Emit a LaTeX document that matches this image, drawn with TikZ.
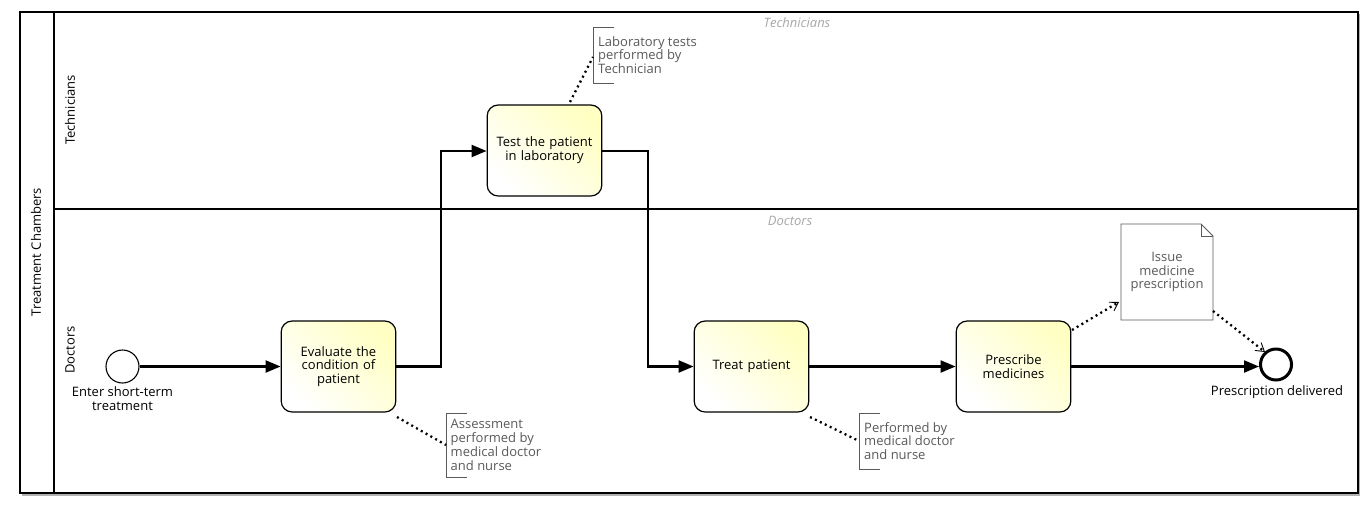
\documentclass[tikz,border=0pt]{standalone}
\usepackage{fontspec}
\setmainfont{Open Sans}
\usetikzlibrary{arrows.meta,shapes.geometric}
\definecolor{taskfill}{HTML}{FFFFC4}
\definecolor{notegray}{HTML}{5A5A5A}
\definecolor{lanegray}{HTML}{A8A8A8}
\begin{document}
\begin{tikzpicture}[x=1pt,y=-1pt,
  font=\fontsize{13}{13.8}\selectfont,
  task/.style={draw,line width=1.2pt,rounded corners=11pt,minimum width=113pt,minimum height=91pt,
    align=center,text width=108pt,left color=white,right color=taskfill,shading angle=135},
  startev/.style={draw,circle,line width=1.1pt,minimum size=33pt,inner sep=0pt},
  endev/.style={draw,circle,line width=3pt,minimum size=31pt,inner sep=0pt},
  flow/.style={line width=2.2pt,-{Triangle[length=15pt,width=12pt]}},
  assoc/.style={line width=2.3pt,dash pattern=on 2pt off 3.5pt},
  dassoc/.style={line width=2.3pt,dash pattern=on 2pt off 3.5pt,
    -{Straight Barb[length=8pt,width=10pt,line width=0.9pt]}},
  notetext/.style={align=left,anchor=west,text=notegray,inner sep=0pt},
  lanetitle/.style={text=lanegray,font=\fontsize{13}{14}\selectfont\itshape},
  evlabel/.style={align=center,inner sep=0pt}]
\useasboundingbox (0,0) rectangle (1367,507);

% pool frame with shadow
\fill[gray!60] (22,14) rectangle (1360,496);
\draw[line width=1.3pt,fill=white] (20,12) rectangle (1358,493);
\draw[line width=1.3pt] (54,12) -- (54,493);
\draw[line width=1.3pt] (54,209) -- (1358,209);

% pool and lane names
\node[rotate=90] (pool) at (36,252) {Treatment Chambers};
\node[rotate=90] (laneT) at (70,110) {Technicians};
\node[rotate=90] (laneD) at (70,350) {Doctors};
\node[lanetitle] (titleT) at (797,23) {Technicians};
\node[lanetitle] (titleD) at (790,221) {Doctors};

% events
\node[startev] (start) at (122.5,366.5) {};
\node[evlabel] (startlbl) at (122.5,399) {Enter short-term\\treatment};
\node[endev] (end) at (1276,364.5) {};
\node[evlabel] (endlbl) at (1277,392) {Prescription delivered};

% tasks
\node[task] (eval) at (338.5,366.5) {Evaluate the\\condition of\\patient};
\node[task] (test) at (544.5,150.5) {Test the patient\\in laboratory};
\node[task] (treat) at (751.5,366.5) {Treat patient};
\node[task] (presc) at (1013.5,366.5) {Prescribe\\medicines};

% data object
\draw[line width=0.9pt,draw=notegray,fill=white] (1121,224) -- (1201,224) -- (1213,236) -- (1213,320) -- (1121,320) -- cycle;
\draw[line width=0.9pt,draw=notegray] (1201,224) -- (1201,236) -- (1213,236);
\node[align=center,text=notegray] (doc) at (1167,272) {Issue\\medicine\\prescription};

% annotations
\draw[line width=0.9pt,draw=notegray] (467,413) -- (446,413) -- (446,477) -- (467,477);
\node[notetext] (n1) at (450.5,445) {Assessment\\performed by\\medical doctor\\and nurse};
\coordinate (n1a) at (446,445);

\draw[line width=0.9pt,draw=notegray] (614,27) -- (593,27) -- (593,83) -- (614,83);
\node[notetext] (n2) at (598,55) {Laboratory tests\\performed by\\Technician};
\coordinate (n2a) at (593,57);

\draw[line width=0.9pt,draw=notegray] (880,413) -- (859,413) -- (859,469) -- (880,469);
\node[notetext] (n3) at (864,441) {Performed by\\medical doctor\\and nurse};
\coordinate (n3a) at (859,441);

% sequence flows
\draw[flow] (start) -- (eval);
\draw[flow] (eval.east) -- (441,366.5) -- (441,151) -- (test.west |- 0,151);
\draw[flow] (test.east |- 0,151) -- (648,151) -- (648,366.5) -- (treat.west);
\draw[flow] (treat) -- (presc);
\draw[flow] (presc.east |- 0,366.5) -- (end.west |- 0,366.5);

% associations
\draw[assoc] (397,417) -- (n1a);
\draw[assoc] (570,102) -- (n2a);
\draw[assoc] (810,417) -- (n3a);
\draw[dassoc] (1072,330) -- (1119,302);
\draw[dassoc] (1213,311) -- (1265,352);
\end{tikzpicture}
\end{document}
